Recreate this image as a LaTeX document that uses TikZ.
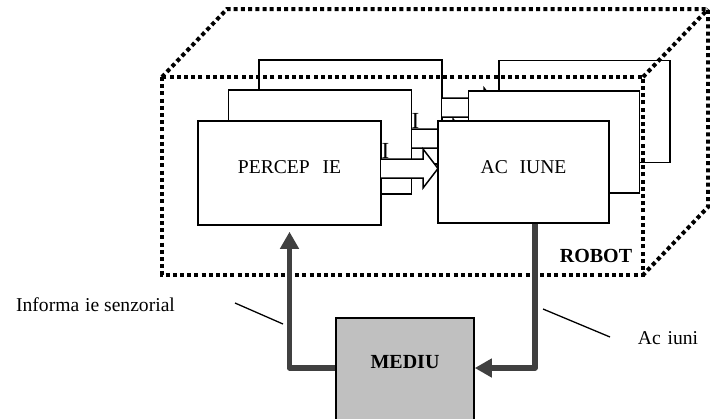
\documentclass[tikz,border=0pt]{standalone}
\usepackage{fontspec}
\setmainfont{Liberation Serif}
\usetikzlibrary{arrows.meta}
\definecolor{feedgray}{RGB}{64,64,64}
\definecolor{mediugray}{RGB}{192,192,192}
\tikzset{
  layer/.style={draw, fill=white, line width=0.75pt, inner sep=0pt},
  percbox/.style={layer, minimum width=91.5pt, minimum height=52pt, text height=7pt, text depth=6.5pt},
  actbox/.style={layer, minimum width=85.5pt, minimum height=51pt, text height=7pt, text depth=6pt},
  blockarrow/.style={draw, fill=white, line width=0.75pt},
  robotframe/.style={line width=2pt, dash pattern=on 2pt off 1.6pt},
  feedback/.style={draw=feedgray, line width=2.75pt, line join=round, -{Triangle[length=8.5pt,width=9pt]}},
  leader/.style={line width=0.65pt},
}

\begin{document}
\begin{tikzpicture}[x=0.5pt, y=-0.5pt, font=\fontsize{9.8}{12}\selectfont]
    \useasboundingbox (0,0) rectangle (710,418);
    % back layer
    \node[percbox] (percback) at (350.5,112) {};
    \draw[blockarrow] (442,98) -- (484,98) -- (484,88) -- (499,107.5) -- (484,127) -- (484,117) -- (442,117);
    \node[actbox] (actback) at (584.5,111.5) {};
    % middle layer
    \node[percbox] (percmid) at (320,142) {};
    \draw[blockarrow] (412,129) -- (453,129) -- (453,119) -- (468,138.5) -- (453,158) -- (453,148) -- (412,148);
    \node[actbox] (actmid) at (554,142) {};
    % front layer
    \node[percbox] (percfront) at (289.5,173) {PERCEP\hspace{0.65em}IE};
    \draw[blockarrow] (381,159) -- (423,159) -- (423,149) -- (438,168.5) -- (423,188) -- (423,178) -- (381,178);
    \node[actbox] (actfront) at (523.5,172) {AC\hspace{0.6em}IUNE};
    \node[font=\fontsize{11.5}{12}\selectfont, inner sep=0pt, anchor=south] (tickfront) at (385.5,159) {I};
    \node[font=\fontsize{11.5}{12}\selectfont, inner sep=0pt, anchor=south] (tickmid) at (415.5,129) {I};
    % Robot
    \draw[robotframe] (162,77) rectangle (643,275);
    \draw[robotframe] (162,77) -- (227,9) -- (708,9) -- (708,207) -- (643,275);
    \draw[robotframe] (643,77) -- (708,9);
    \node[font=\bfseries] (robotlabel) at (596,256) {ROBOT};
    % Mediu
    \node[draw, fill=mediugray, line width=0.75pt, minimum width=69pt, minimum height=60pt, anchor=north] (medium) at (405,317) {};
    \node[font=\bfseries] (mediumtext) at (405,362) {MEDIU};
    \draw[feedback] (medium.west |- 0,368) -| ([yshift=-3pt]percfront.south);
    \draw[feedback] ([xshift=5.75pt]actfront.south) |- (medium.east |- 0,368);
    % labels
    \node (infolabel) at (95.5,305) {Informa\hspace{0.3em}ie senzorial};
    \node (actlabel) at (668,338) {Ac\hspace{0.35em}iuni};
    \draw[leader] (235,303) -- (283,324);
    \draw[leader] (543,309) -- (610,337);
\end{tikzpicture}
\end{document}
